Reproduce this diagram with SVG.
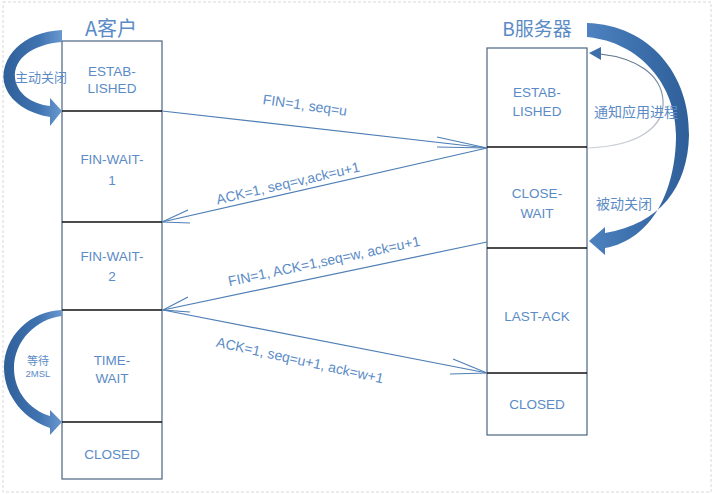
<svg xmlns="http://www.w3.org/2000/svg" width="715" height="494" viewBox="0 0 715 494">
<defs>
<linearGradient id="gL" x1="0" y1="0" x2="1" y2="0">
<stop offset="0" stop-color="#2f5f99"/>
<stop offset="0.6" stop-color="#3f73b0"/>
<stop offset="1" stop-color="#6a98cf"/>
</linearGradient>
<linearGradient id="gR" x1="1" y1="0" x2="0" y2="0">
<stop offset="0" stop-color="#2f5f99"/>
<stop offset="0.6" stop-color="#3f73b0"/>
<stop offset="1" stop-color="#4f82c0"/>
</linearGradient>
<linearGradient id="gThin" x1="0" y1="0" x2="0" y2="1">
<stop offset="0" stop-color="#5a6e86"/>
<stop offset="1" stop-color="#d0d4da"/>
</linearGradient>
</defs>
<style>
.box{fill:#ffffff;stroke:#4a6580;stroke-width:1.2}
.div{stroke:#111;stroke-width:1.3}
.lbl{font-family:"Liberation Sans","Noto Sans CJK SC",sans-serif;font-size:13.5px;fill:#5b8bc6;text-anchor:middle}
.cjk{font-family:"Noto Sans CJK SC","Liberation Sans",sans-serif;fill:#5b8bc6;text-anchor:middle}
.msg{font-family:"Liberation Sans","Noto Sans CJK SC",sans-serif;font-size:14px;fill:#5b8bc6;text-anchor:middle}
.conn{stroke:#4f7fb5;stroke-width:1.2;fill:none}
</style>
<rect x="3" y="2" width="708" height="490" fill="#fff" stroke="#d8d8d8" stroke-width="1" stroke-dasharray="3,2"/>

<g id="titleA"><text class="cjk" x="111" y="36" font-size="20">A客户</text></g>
<g id="titleB"><text class="cjk" x="537" y="36" font-size="19">B服务器</text></g>

<g id="clientColumn">
<rect class="box" x="62" y="41" width="100" height="438"/>
<line class="div" x1="62" y1="111" x2="162" y2="111"/>
<line class="div" x1="62" y1="222" x2="162" y2="222"/>
<line class="div" x1="62" y1="310" x2="162" y2="310"/>
<line class="div" x1="62" y1="422" x2="162" y2="422"/>
</g>
<g id="A-established"><text class="lbl" x="112" y="76">ESTAB-</text><text class="lbl" x="112" y="93">LISHED</text></g>
<g id="A-finwait1"><text class="lbl" x="112" y="164">FIN-WAIT-</text><text class="lbl" x="112" y="185">1</text></g>
<g id="A-finwait2"><text class="lbl" x="112" y="261">FIN-WAIT-</text><text class="lbl" x="112" y="281">2</text></g>
<g id="A-timewait"><text class="lbl" x="112" y="365">TIME-</text><text class="lbl" x="112" y="383">WAIT</text></g>
<g id="A-closed"><text class="lbl" x="112" y="459">CLOSED</text></g>

<g id="serverColumn">
<rect class="box" x="487" y="48" width="100" height="387"/>
<line class="div" x1="487" y1="147" x2="587" y2="147"/>
<line class="div" x1="487" y1="248" x2="587" y2="248"/>
<line class="div" x1="487" y1="373" x2="587" y2="373"/>
</g>
<g id="B-established"><text class="lbl" x="537" y="97">ESTAB-</text><text class="lbl" x="537" y="116">LISHED</text></g>
<g id="B-closewait"><text class="lbl" x="537" y="198">CLOSE-</text><text class="lbl" x="537" y="218">WAIT</text></g>
<g id="B-lastack"><text class="lbl" x="537" y="321">LAST-ACK</text></g>
<g id="B-closed"><text class="lbl" x="537" y="409">CLOSED</text></g>

<g id="connectors">
<line class="conn" x1="162" y1="111" x2="487" y2="148"/>
<polyline class="conn" points="437,137 487,148 437,147"/>
<line class="conn" x1="487" y1="148" x2="162" y2="222"/>
<polyline class="conn" points="188,210 162,222 190,223"/>
<line class="conn" x1="487" y1="242" x2="163" y2="310"/>
<polyline class="conn" points="188,297 163,310 190,312"/>
<line class="conn" x1="163" y1="310" x2="487" y2="373"/>
<polyline class="conn" points="453,359 487,373 450,374"/>

<text class="msg" x="305" y="110" transform="rotate(8 305 105)">FIN=1, seq=u</text>
<text class="msg" x="288" y="188" transform="rotate(-13 288 183)">ACK=1, seq=v,ack=u+1</text>
<text class="msg" x="324" y="266" transform="rotate(-12 324 261)">FIN=1, ACK=1,seq=w, ack=u+1</text>
<text class="msg" x="300" y="365" transform="rotate(12.5 300 360)">ACK=1, seq=u+1, ack=w+1</text>
</g>

<g id="activeClose">
<path fill="url(#gL)" d="M62,30 C22,32 0,58 4,82 C8,102 30,114 50,117 L50,126 L62,111 L50,98 L50,106 C32,104 17,94 15,78 C13,58 34,44 62,42 Z"/>
<text class="cjk" x="41" y="82" font-size="13">主动关闭</text>
</g>

<g id="wait2msl">
<path fill="url(#gL)" d="M62,310 C30,311 4,336 4,368 C4,397 26,420 50,428 L50,435 L62,422 L50,410 L50,416 C30,410 14,392 14,368 C14,341 36,319 62,316 Z"/>
<text class="cjk" x="38" y="365" font-size="11">等待</text>
<text class="lbl" x="38" y="377" style="font-size:9.5px">2MSL</text>
</g>

<g id="passiveClose">
<path fill="url(#gR)" d="M587,23 C650,25 690,75 689,135 C688,187 660,224 605,233 L605,227 L589,241 L605,255 L605,248 C652,240 676,190 676,135 C676,85 640,42 587,37 Z"/>
<text class="cjk" x="624" y="209" font-size="14">被动关闭</text>
</g>

<g id="notifyApp">
<path d="M588,148 C640,146 665,126 663,100 C661,74 636,58 600,54" fill="none" stroke="url(#gThin)" stroke-width="1.2"/>
<polygon points="589,53 601,47 601,60" fill="#3d6fab"/>
<text class="cjk" x="636" y="117" font-size="14">通知应用进程</text>
</g>
</svg>
